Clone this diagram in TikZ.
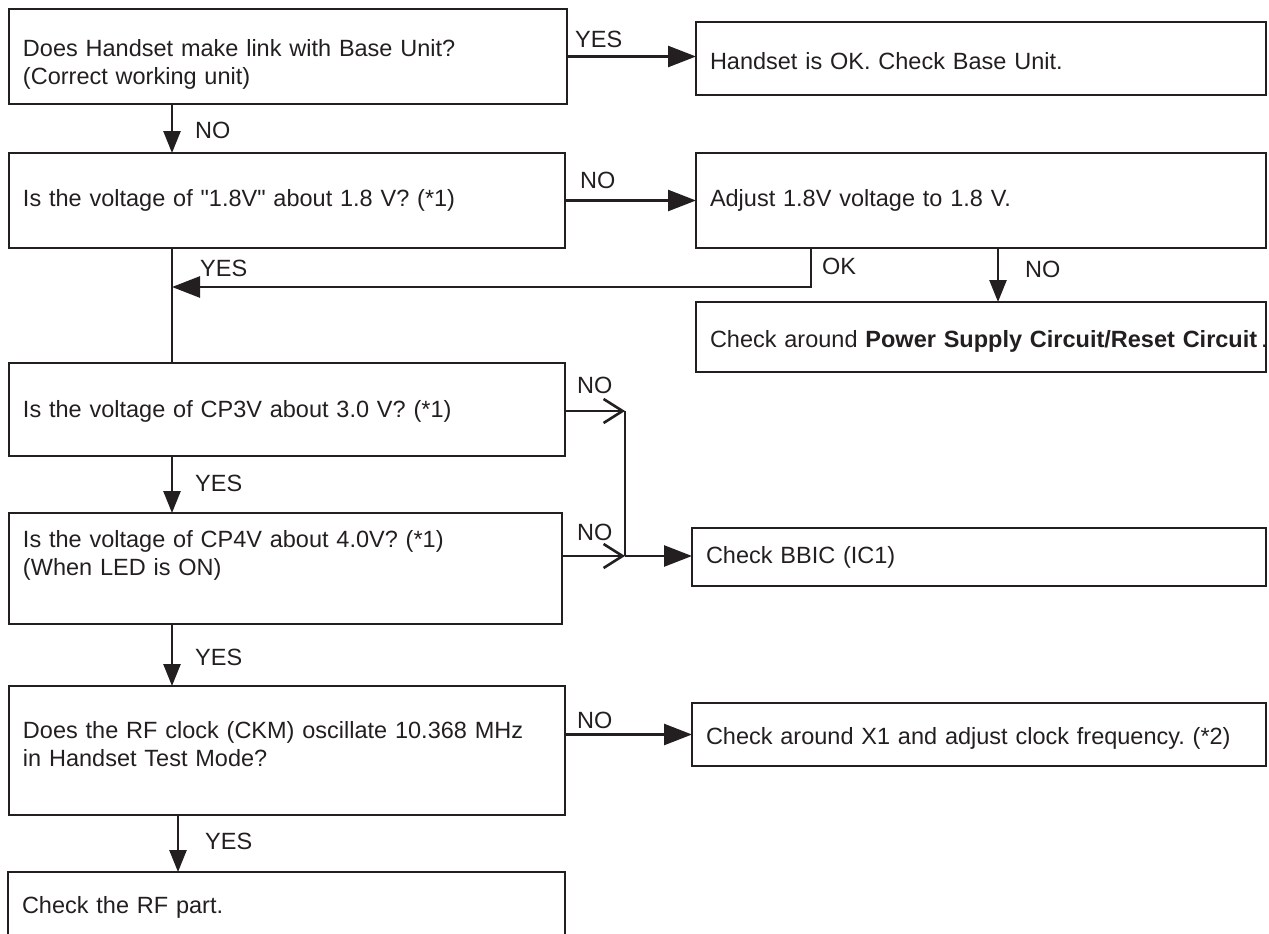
\documentclass[tikz,border=0pt]{standalone}
\usepackage{fontspec}
\setmainfont{Liberation Sans}[Ligatures=TeXOff]
\usetikzlibrary{arrows.meta}
\definecolor{ink}{HTML}{231F20}
\begin{document}
\frenchspacing
\begin{tikzpicture}[x=1pt,y=-1pt,
  every node/.style={font=\fontsize{23.5}{28}\selectfont, text=ink},
  box/.style={draw=ink, line width=2.6pt, rectangle, anchor=north west, outer sep=0pt,
              inner xsep=14pt, inner ysep=0pt, align=left},
  lbl/.style={anchor=west, inner sep=0pt},
  conn/.style={draw=ink, line width=2.6pt},
  harr/.style={conn, -{Triangle[length=28pt,width=21pt]}},
  varr/.style={conn, -{Triangle[length=22pt,width=17pt]}},
  barb/.style={conn, -{Straight Barb[length=19pt,width=24pt]}}]
\useasboundingbox (0,0) rectangle (1269,934);
\clip (0,0) rectangle (1269,934);
% boxes
\node[box, minimum width=558pt, minimum height=95pt, text width=530pt] (b1) at (9,9)
  {\rule{0pt}{32pt}Does Handset make link with Base Unit?\\(Correct working unit)};
\node[box, minimum width=570pt, minimum height=73pt, text width=542pt] (b2) at (696,22)
  {\rule{0pt}{22pt}Handset is OK. Check Base Unit.};
\node[box, minimum width=556pt, minimum height=95pt, text width=528pt] (b3) at (9,153)
  {Is the voltage of \symbol{34}1.8V\symbol{34} about 1.8 V? (*1)};
\node[box, minimum width=570pt, minimum height=95pt, text width=542pt] (b4) at (696,153)
  {Adjust 1.8V voltage to 1.8 V.};
\node[box, minimum width=570pt, minimum height=70pt, text width=542pt] (b6) at (696,302)
  {\rule{0pt}{26pt}\mbox{Check around \textbf{Power Supply Circuit/Reset Circuit}\,.}};
\node[box, minimum width=556pt, minimum height=93pt, text width=528pt] (b5) at (9,363)
  {\rule{0pt}{20pt}Is the voltage of CP3V about 3.0 V? (*1)};
\node[box, minimum width=553pt, minimum height=111pt, text width=525pt] (b7) at (9,513)
  {Is the voltage of CP4V about 4.0V? (*1)\\(When LED is ON)\\[4pt]\mbox{}};
\node[box, minimum width=574pt, minimum height=58pt, text width=546pt] (b8) at (692,528)
  {Check BBIC (IC1)};
\node[box, minimum width=556pt, minimum height=129pt, text width=528pt] (b9) at (9,686)
  {Does the RF clock (CKM) oscillate 10.368 MHz\\in Handset Test Mode?\rule[-14pt]{0pt}{1pt}};
\node[box, minimum width=574pt, minimum height=63pt, text width=546pt] (b10) at (692,703)
  {\rule{0pt}{24pt}Check around X1 and adjust clock frequency. (*2)};
\node[box, minimum width=557pt, minimum height=66pt, text width=529pt] (b11) at (8,872)
  {\rule{0pt}{22pt}Check the RF part.};
% junction coordinates
\coordinate (m) at (172,287);
\coordinate (j1) at (625,411);
\coordinate (j2) at (625,556);
% connectors
\draw[harr] (b1.east) -- (b1.east -| b2.west);
\draw[varr] ([xshift=163pt]b1.south west) -- ([xshift=163pt]b3.north west);
\draw[harr] (b3.east) -- (b3.east -| b4.west);
\draw[harr] ([xshift=115pt]b4.south west) |- (m);
\draw[conn] ([xshift=163pt]b3.south west) -- ([xshift=163pt]b5.north west);
\draw[varr] ([xshift=302pt]b4.south west) -- ([xshift=302pt]b6.north west);
\draw[barb] (b5.east |- j1) -- (j1);
\draw[barb] (b7.east |- j2) -- (j2);
\draw[conn] (j1) -- (j2);
\draw[harr] (j2) -- (j2 -| b8.west);
\draw[varr] ([xshift=163pt]b5.south west) -- ([xshift=163pt]b7.north west);
\draw[varr] ([xshift=163pt]b7.south west) -- ([xshift=163pt]b9.north west);
\draw[harr] (b10.west -| b9.east) -- (b10.west);
\draw[varr] ([xshift=169pt]b9.south west) -- ([xshift=170pt]b11.north west);
% labels
\node[lbl] (l1) at (575,39) {YES};
\node[lbl] (l2) at (195,130) {NO};
\node[lbl] (l3) at (580,180) {NO};
\node[lbl] (l4) at (200,268) {YES};
\node[lbl] (l5) at (822,266) {OK};
\node[lbl] (l6) at (1025,269) {NO};
\node[lbl] (l7) at (577,385) {NO};
\node[lbl] (l8) at (195,483) {YES};
\node[lbl] (l9) at (577,532) {NO};
\node[lbl] (l10) at (195,657) {YES};
\node[lbl] (l11) at (577,720) {NO};
\node[lbl] (l12) at (205,841) {YES};
\end{tikzpicture}
\end{document}
